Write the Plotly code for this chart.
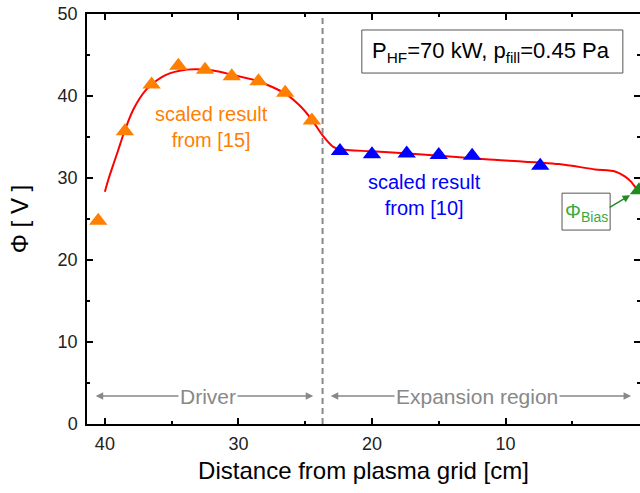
import plotly.graph_objects as go

# ---- data ----
orange_x = [40.5, 38.5, 36.5, 34.5, 32.5, 30.5, 28.5, 26.5, 24.5]
orange_y = [24.8, 35.7, 41.4, 43.7, 43.2, 42.4, 41.8, 40.4, 37.0]
blue_x = [22.4, 20.0, 17.4, 15.0, 12.5, 7.4]
blue_y = [33.3, 32.9, 33.0, 32.8, 32.7, 31.5]
bias_x = [0.0]
bias_y = [28.5]
curve_x = [40.0, 39.75, 39.38, 39.0, 38.63, 38.26, 37.89, 37.39, 36.89, 36.4, 35.77, 35.15,
           34.4, 33.28, 31.9, 30.5, 28.5, 26.5, 25.45, 24.5, 23.7, 22.9, 22.4, 20.0, 16.5,
           11.5, 6.0, 3.3, 1.8, 1.07, 0.57, 0.2, 0.0]
curve_y = [28.33, 29.76, 31.59, 33.41, 35.24, 36.87, 38.29, 39.72, 40.81, 41.55, 42.28, 42.76,
           43.09, 43.25, 43.1, 42.6, 41.8, 40.3, 38.9, 37.1, 35.2, 33.8, 33.5, 33.25, 32.9,
           32.3, 31.7, 31.05, 30.8, 30.2, 29.5, 28.7, 28.4]
driver_boundary = 23.7
x_ticks = [40, 30, 20, 10, 0]
y_ticks = [0, 10, 20, 30, 40, 50]

FONT = "Liberation Sans, Arial, sans-serif"
ORANGE = "#FF8000"
BLUE = "#0000FF"
GRAY = "#888888"

fig = go.Figure()
fig.add_trace(go.Scatter(x=curve_x, y=curve_y, mode="lines",
                         line=dict(color="#FF0000", width=2, shape="spline", smoothing=0.7),
                         showlegend=False, hoverinfo="skip"))
fig.add_trace(go.Scatter(x=orange_x, y=orange_y, mode="markers",
                         marker=dict(symbol="triangle-up", size=16, color=ORANGE),
                         showlegend=False))
fig.add_trace(go.Scatter(x=blue_x, y=blue_y, mode="markers",
                         marker=dict(symbol="triangle-up", size=16, color=BLUE),
                         showlegend=False))
fig.add_trace(go.Scatter(x=bias_x, y=bias_y, mode="markers",
                         marker=dict(symbol="triangle-up", size=16, color="#1E8C1E"),
                         showlegend=False, cliponaxis=False))

# dashed boundary
fig.add_shape(type="line", x0=driver_boundary, x1=driver_boundary, y0=0, y1=50,
              xref="x", yref="y", line=dict(color=GRAY, width=2, dash="6px,4px"))

# double arrows
for xs, xe in [(40.8, 24.4), (23.2, 0.6)]:
    fig.add_annotation(x=xe, y=3.4, ax=xs, ay=3.4, xref="x", yref="y", axref="x", ayref="y",
                       text="", showarrow=True, arrowhead=2, startarrowhead=2,
                       arrowside="end+start", arrowsize=1, startarrowsize=1,
                       arrowwidth=1.5, arrowcolor=GRAY)
fig.add_annotation(x=32.3, y=3.4, xref="x", yref="y", text="Driver", showarrow=False,
                   xanchor="center", yanchor="middle",
                   font=dict(family=FONT, size=21, color=GRAY), bgcolor="white", borderpad=1)
fig.add_annotation(x=12.1, y=3.4, xref="x", yref="y", text="Expansion region", showarrow=False,
                   xanchor="center", yanchor="middle",
                   font=dict(family=FONT, size=21, color=GRAY), bgcolor="white", borderpad=1)

# series labels
fig.add_annotation(x=32.0, y=36.2, xref="x", yref="y", text="scaled result<br>from [15]",
                   showarrow=False, xanchor="center", yanchor="middle",
                   font=dict(family=FONT, size=20, color=ORANGE))
fig.add_annotation(x=16.1, y=27.9, xref="x", yref="y", text="scaled result<br>from [10]",
                   showarrow=False, xanchor="center", yanchor="middle",
                   font=dict(family=FONT, size=20, color=BLUE))

# parameter box
fig.add_shape(type="rect", xref="paper", yref="paper", x0=0.497, x1=0.969, y0=0.856, y1=0.961,
              line=dict(color="#555555", width=1), fillcolor="white", layer="below")
fig.add_annotation(x=0.7297, y=0.907, xref="paper", yref="paper",
                   text="P<sub>HF</sub>=70 kW, p<sub>fill</sub>=0.45 Pa", showarrow=False,
                   xanchor="center", yanchor="middle",
                   font=dict(family=FONT, size=22, color="black"))

# Phi bias box
fig.add_shape(type="rect", xref="paper", yref="paper", x0=0.859, x1=0.946, y0=0.473, y1=0.563,
              line=dict(color="#555555", width=1), fillcolor="white", layer="below")
fig.add_annotation(x=0.903, y=0.515, xref="paper", yref="paper",
                   text="Φ<sub>Bias</sub>", showarrow=False,
                   xanchor="center", yanchor="middle",
                   font=dict(family=FONT, size=20, color="#3CAA3C"))
fig.add_annotation(x=0.67, y=27.9, ax=2.31, ay=26.3, xref="x", yref="y", axref="x", ayref="y",
                   text="", showarrow=True, arrowhead=2, arrowsize=1, arrowwidth=1.5,
                   arrowcolor="#1E8C1E")

axis_common = dict(showline=True, linecolor="black", linewidth=1.5, mirror="ticks",
                   ticks="inside", ticklen=6, tickwidth=1.5, tickcolor="black",
                   showgrid=False, zeroline=False, automargin=False,
                   tickfont=dict(family=FONT, size=18, color="#222222"))

fig.update_xaxes(range=[41.34, -0.07], tickvals=x_ticks,
                 minor=dict(ticks="inside", ticklen=3, tickwidth=1.5, dtick=5, tick0=0, tickcolor="black"),
                 title=dict(text="Distance from plasma grid [cm]", standoff=9,
                            font=dict(family=FONT, size=24, color="black")),
                 ticklabelstandoff=3,
                 **axis_common)
fig.update_yaxes(range=[0, 50], tickvals=y_ticks,
                 minor=dict(ticks="inside", ticklen=3, tickwidth=1.5, dtick=5, tick0=0, tickcolor="black"),
                 title=dict(text="Φ [ V ]", standoff=22,
                            font=dict(family=FONT, size=24, color="black")),
                 ticklabelstandoff=4,
                 **axis_common)

fig.update_layout(width=640, height=493, margin=dict(l=87, r=0, t=14, b=69),
                  plot_bgcolor="white", paper_bgcolor="white", showlegend=False)

fig.write_html("out.html", config={"displayModeBar": False},
               post_script="document.body.style.margin='0';document.body.style.overflow='hidden';")
